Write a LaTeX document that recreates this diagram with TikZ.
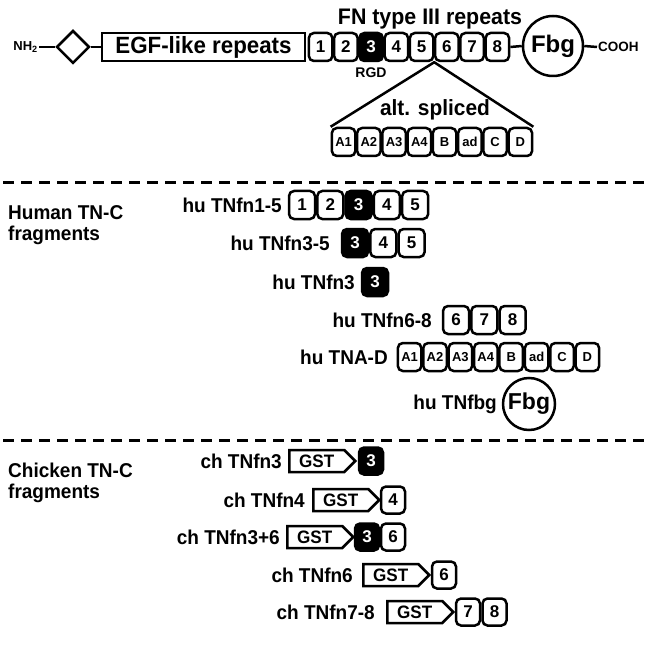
\documentclass[tikz,border=0pt]{standalone}
\usepackage{fontspec}
\setmainfont{Liberation Sans}
\newfontfamily\narrowfont[FakeStretch=0.95]{Liberation Sans}
\usetikzlibrary{shapes.geometric,shapes.symbols,calc}

\tikzset{
  lab/.style={font=\narrowfont\bfseries\fontsize{20}{21}\selectfont, inner sep=0pt},
  grouplab/.style={lab, align=left, anchor=north west},
  rep/.style={draw, line width=2.5pt, rounded corners=5pt, minimum width=23.5pt,
    minimum height=28pt, inner sep=0pt, font=\bfseries\fontsize{17}{17}\selectfont},
  repk/.style={rep, fill=black, text=white},
  hrep/.style={rep, minimum width=26pt},
  hrepk/.style={hrep, fill=black, text=white},
  alt/.style={rep, font=\bfseries\fontsize{13}{13}\selectfont},
  crep/.style={rep, minimum width=24pt, minimum height=27pt},
  crepk/.style={crep, fill=black, text=white},
  gst/.style={signal, signal to=east, signal pointer angle=90, draw, line width=2.5pt,
    minimum height=22pt, minimum width=66pt, inner sep=1pt,
    font=\narrowfont\bfseries\fontsize{18}{18}\selectfont},
  fbgc/.style={circle, draw, line width=2.5pt, inner sep=0pt},
  sep/.style={line width=3pt, dash pattern=on 11pt off 7pt},
  link/.style={line width=2.5pt}
}

\begin{document}
\begin{tikzpicture}[x={(1pt,0)}, y={(0,-1pt)}]
\useasboundingbox (0,0) rectangle (648,652);

% ---------- domain structure of the full molecule ----------
\node[font=\narrowfont\bfseries\fontsize{22.5}{22.5}\selectfont] (fntitle) at (430,19) {FN type III repeats};
\node[font=\bfseries\fontsize{13}{13}\selectfont, anchor=east, inner sep=1pt] (nh) at (39,47) {NH\textsubscript{2}};
\node[diamond, draw, line width=2.5pt, minimum size=33pt, inner sep=0pt] (dia) at (73,47) {};
\node[draw, line width=2.7pt, minimum width=203pt, minimum height=28pt, inner sep=0pt,
      font=\narrowfont\bfseries\fontsize{23.5}{23.5}\selectfont] (egf) at (203.5,47) {EGF-like repeats};
\foreach \t/\s [count=\i] in {1/rep,2/rep,3/repk,4/rep,5/rep,6/rep,7/rep,8/rep}
  \node[\s] (t\i) at ({320.6+25.25*(\i-1)},47) {\t};
\node[fbgc, minimum size=60pt, font=\bfseries\fontsize{24}{24}\selectfont] (fbg) at (553,46) {Fbg};
\node[font=\bfseries\fontsize{13.5}{13.5}\selectfont, anchor=west, inner sep=1pt] (cooh) at (597,47) {COOH};
\draw[link] (nh.east) -- (dia.west);
\draw[link] (dia.east) -- (egf.west);
\draw[link] (t8.east) -- (fbg.west);
\draw[link] (fbg.east) -- (cooh.west);
\node[font=\bfseries\fontsize{14}{14}\selectfont] (rgd) at (371,73) {RGD};

% alternatively spliced repeats
\coordinate (apex) at ($(t5.south east)!0.5!(t6.south west)$);
\foreach \t [count=\i] in {A1,A2,A3,A4,B,ad,C,D}
  \node[alt] (s\i) at ({343.6+25.25*(\i-1)},142) {\t};
\draw[link, line join=round] (s1.north west) -- (apex) -- (s8.north east);
\node[font=\narrowfont\bfseries\fontsize{22}{22}\selectfont] (altlab) at (435,110) {alt. spliced};

\coordinate (d1a) at (3,183);
\coordinate (d1b) at (647,183);
\draw[sep] (d1a) -- (d1b);

% ---------- human fragments ----------
\node[grouplab] (hum) at (8,205) {Human TN-C\\fragments};

\node[lab, anchor=east] (h1) at (282,205) {hu TNfn1-5};
\foreach \t/\s [count=\i] in {1/hrep,2/hrep,3/hrepk,4/hrep,5/hrep}
  \node[\s] (ha\i) at ({302+28.3*(\i-1)},205) {\t};

\node[lab, anchor=east] (h2) at (330,243) {hu TNfn3-5};
\foreach \t/\s [count=\i] in {3/hrepk,4/hrep,5/hrep}
  \node[\s] (hb\i) at ({355+28.3*(\i-1)},243) {\t};

\node[lab, anchor=east] (h3) at (355,282) {hu TNfn3};
\node[hrepk] (hc1) at (375,282) {3};

\node[lab, anchor=east] (h4) at (432,320) {hu TNfn6-8};
\foreach \t [count=\i] in {6,7,8}
  \node[hrep] (hd\i) at ({456+28.3*(\i-1)},320) {\t};

\node[lab, anchor=east] (h5) at (388,357) {hu TNA-D};
\foreach \t [count=\i] in {A1,A2,A3,A4,B,ad,C,D}
  \node[alt] (he\i) at ({409.6+25.4*(\i-1)},357) {\t};

\node[lab, anchor=east] (h6) at (497,404) {hu TNfbg};
\node[fbgc, minimum size=52pt, font=\bfseries\fontsize{23}{23}\selectfont] (hf1) at (529,404) {Fbg};

\coordinate (d2a) at (3,440);
\coordinate (d2b) at (647,440);
\draw[sep] (d2a) -- (d2b);

% ---------- chicken fragments (GST fusions) ----------
\node[grouplab] (chk) at (8,463) {Chicken TN-C\\fragments};

\node[lab, anchor=east] (c1) at (282,461) {ch TNfn3};
\node[gst, anchor=west] (g1) at (288,461) {GST\hspace{12pt}};
\node[crepk] (ca1) at (371,461) {3};

\node[lab, anchor=east] (c2) at (305,500) {ch TNfn4};
\node[gst, anchor=west] (g2) at (312,500) {GST\hspace{12pt}};
\node[crep] (cb1) at (393,500) {4};

\node[lab, anchor=east] (c3) at (280,537) {ch TNfn3+6};
\node[gst, anchor=west] (g3) at (286,537) {GST\hspace{12pt}};
\node[crepk] (cc1) at (367,537) {3};
\node[crep] (cc2) at (393,537) {6};

\node[lab, anchor=east] (c4) at (353,575) {ch TNfn6};
\node[gst, anchor=west] (g4) at (362,575) {GST\hspace{12pt}};
\node[crep] (cd1) at (444,575) {6};

\node[lab, anchor=east] (c5) at (375,612) {ch TNfn7-8};
\node[gst, anchor=west] (g5) at (386,612) {GST\hspace{12pt}};
\foreach \t [count=\i] in {7,8}
  \node[crep] (ce\i) at ({468+26.5*(\i-1)},612) {\t};
\end{tikzpicture}
\end{document}
